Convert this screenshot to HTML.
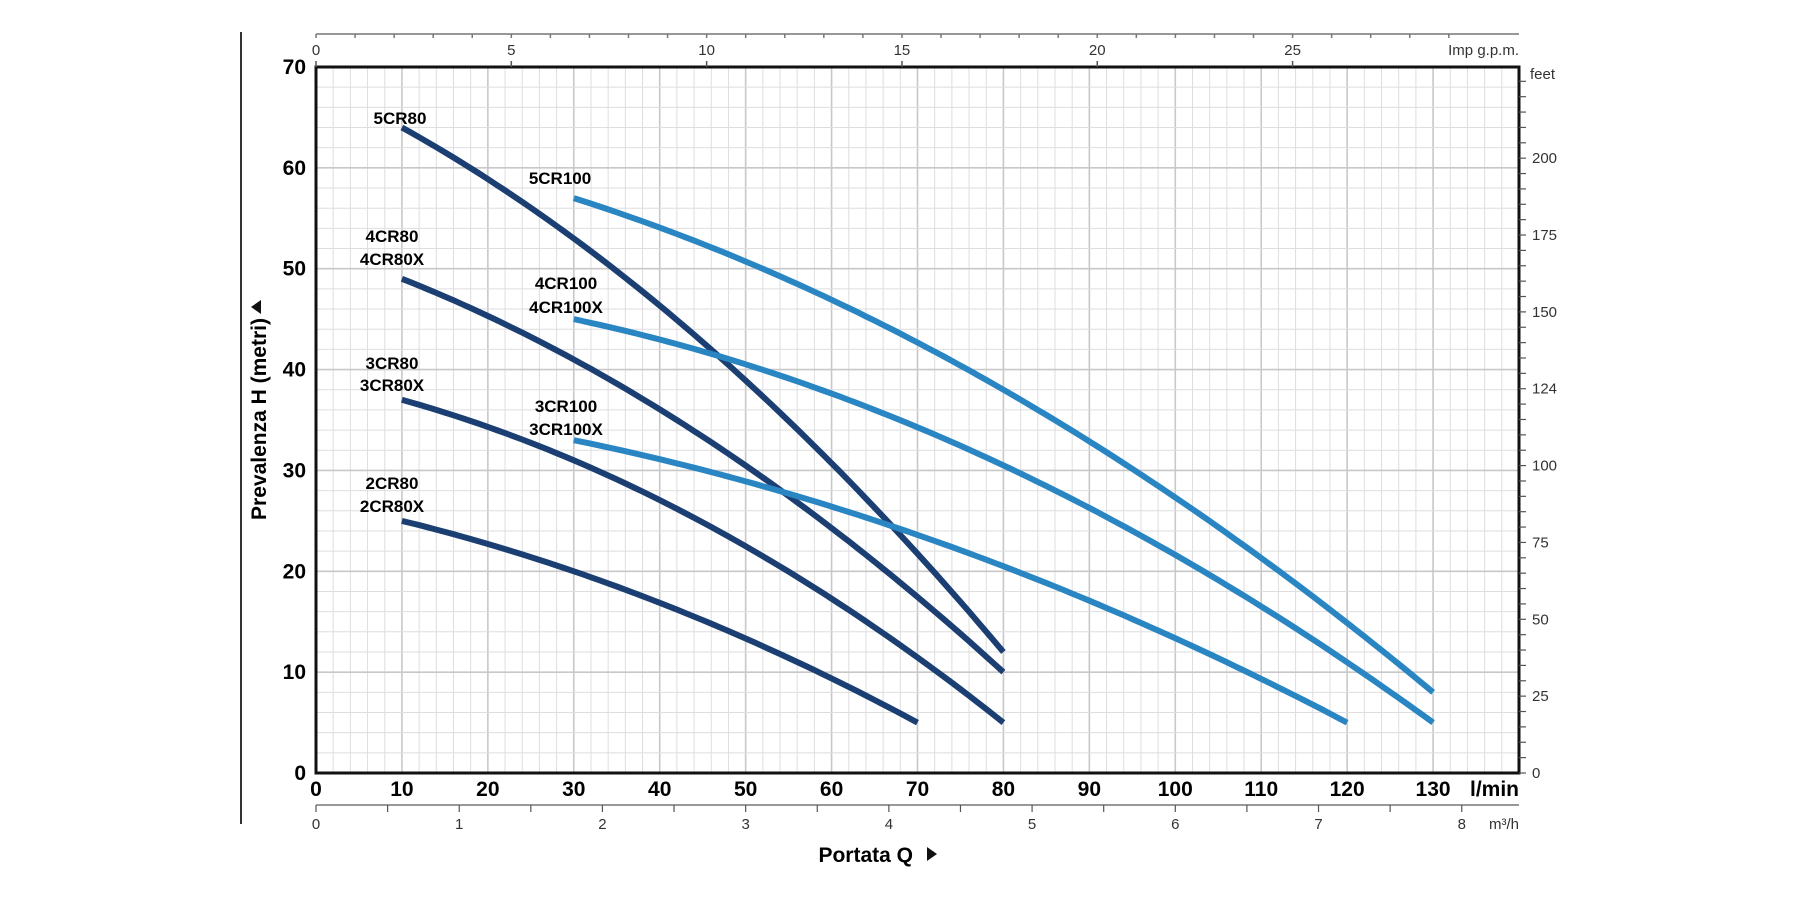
<!DOCTYPE html>
<html><head><meta charset="utf-8"><style>
html,body{margin:0;padding:0;background:#fff;width:1800px;height:900px;overflow:hidden}
svg{display:block}
text{font-family:"Liberation Sans",sans-serif}
</style></head><body>
<svg id="s" width="1800" height="900" xmlns="http://www.w3.org/2000/svg"></svg>
<script>
const X0=316,X1=1519,Y0=773,Y1=67;
const px=q=>X0+q*(X1-X0)/140, py=h=>Y0-h*(Y0-Y1)/70;
let o='';
for(let q=2;q<140;q+=2){const x=px(q);const maj=q%10==0;o+=`<line x1="${x}" y1="${Y1}" x2="${x}" y2="${Y0}" stroke="${maj?'#c8c8c8':'#dedede'}" stroke-width="${maj?1.6:1}"/>`;}
for(let h=2;h<70;h+=2){const y=py(h);const maj=h%10==0;o+=`<line x1="${X0}" y1="${y}" x2="${X1}" y2="${y}" stroke="${maj?'#c8c8c8':'#dedede'}" stroke-width="${maj?1.6:1}"/>`;}
o+=`<rect x="${X0}" y="${Y1}" width="${X1-X0}" height="${Y0-Y1}" fill="none" stroke="#111" stroke-width="3"/>`;
o+=`<line x1="241" y1="32" x2="241" y2="824" stroke="#333" stroke-width="2"/>`;
for(let h=0;h<=70;h+=10)o+=`<text x="${X0-10}" y="${py(h)+7}" font-size="21" font-weight="bold" text-anchor="end">${h}</text>`;
for(let q=0;q<=130;q+=10)o+=`<text x="${px(q)}" y="796" font-size="21" font-weight="bold" text-anchor="middle">${q}</text>`;
o+=`<text x="1519" y="796" font-size="21" font-weight="bold" text-anchor="end">l/min</text>`;
o+=`<line x1="${X0}" y1="34" x2="${X1}" y2="34" stroke="#777" stroke-width="1.5"/>`;
for(let g=0;g<=29;g++){const x=px(g*4.546);o+=`<line x1="${x}" y1="34" x2="${x}" y2="38" stroke="#777" stroke-width="1.5"/>`;if(g%5==0){o+=`<text x="${x}" y="55" font-size="15" fill="#333" text-anchor="middle">${g}</text>`;o+=`<line x1="${x}" y1="${Y1}" x2="${x}" y2="${Y1-6}" stroke="#555" stroke-width="1.5"/>`;}}
o+=`<text x="1519" y="55" font-size="15" fill="#333" text-anchor="end">Imp g.p.m.</text>`;
for(let f=0;f<=230;f+=5){const y=Y0-f*0.3048*(Y0-Y1)/70;if(y<Y1+8)break;o+=`<line x1="${X1}" y1="${y}" x2="${X1+7}" y2="${y}" stroke="#555" stroke-width="1.2"/>`;if(f%25==0&&f<=200){o+=`<text x="${X1+13}" y="${y+5}" font-size="15" fill="#333">${f==125?124:f}</text>`;}}
o+=`<text x="1530" y="79" font-size="15" fill="#333">feet</text>`;
o+=`<line x1="${X0}" y1="805" x2="${X1}" y2="805" stroke="#777" stroke-width="1.5"/>`;
for(let m=0;m<=8.4;m+=0.5){const x=px(m*16.667);o+=`<line x1="${x}" y1="805" x2="${x}" y2="812" stroke="#555" stroke-width="1.2"/>`;if(Math.abs(m-Math.round(m))<1e-6)o+=`<text x="${x}" y="829" font-size="15" fill="#333" text-anchor="middle">${Math.round(m)}</text>`;}
o+=`<text x="1519" y="829" font-size="15" fill="#333" text-anchor="end">m³/h</text>`;
o+=`<text x="913" y="862" font-size="21" font-weight="bold" text-anchor="end">Portata Q</text><path d="M927 847 L937 854 L927 861Z" fill="#111"/>`;
o+=`<g transform="translate(266,419) rotate(-90)"><text x="0" y="0" font-size="21" font-weight="bold" text-anchor="middle">Prevalenza H (metri)</text><path d="M112 -15 L119 -5 L105 -5Z" fill="#111"/></g>`;
function fit(p){const [a,b,c]=p;const [x1,y1]=a,[x2,y2]=b,[x3,y3]=c;
const A=((y3-y1)/(x3-x1)-(y2-y1)/(x2-x1))/(x3-x2);const B=(y2-y1)/(x2-x1)-A*(x1+x2);const C=y1-A*x1*x1-B*x1;return q=>A*q*q+B*q+C;}
const D='#1b3f72',L='#2a86c3';
const cs=[[[10,64],[30,53],[80,12],D],[[10,49],[30,41],[80,10],D],[[10,37],[30,31],[80,5],D],[[10,25],[30,20],[70,5],D],
[[30,57],[80,38],[130,8],L],[[30,45],[80,30.5],[130,5],L],[[30,33],[80,20.5],[120,5],L]];
for(const c of cs){const f=fit(c);let d='';for(let q=c[0][0];q<=c[2][0]+1e-6;q+=1)d+=(d?'L':'M')+px(q).toFixed(1)+' '+py(f(q)).toFixed(1);o+=`<path d="${d}" fill="none" stroke="${c[3]}" stroke-width="6"/>`;}
const lb=[['5CR80',400,124],['5CR100',560,184],['4CR80',392,242],['4CR80X',392,265],['4CR100',566,289],['4CR100X',566,313],['3CR80',392,369],['3CR80X',392,391],['3CR100',566,412],['3CR100X',566,435],['2CR80',392,489],['2CR80X',392,512]];
for(const l of lb)o+=`<text x="${l[1]}" y="${l[2]}" font-size="17" font-weight="bold" text-anchor="middle">${l[0]}</text>`;
document.getElementById('s').innerHTML=o;
</script>
</body></html>
